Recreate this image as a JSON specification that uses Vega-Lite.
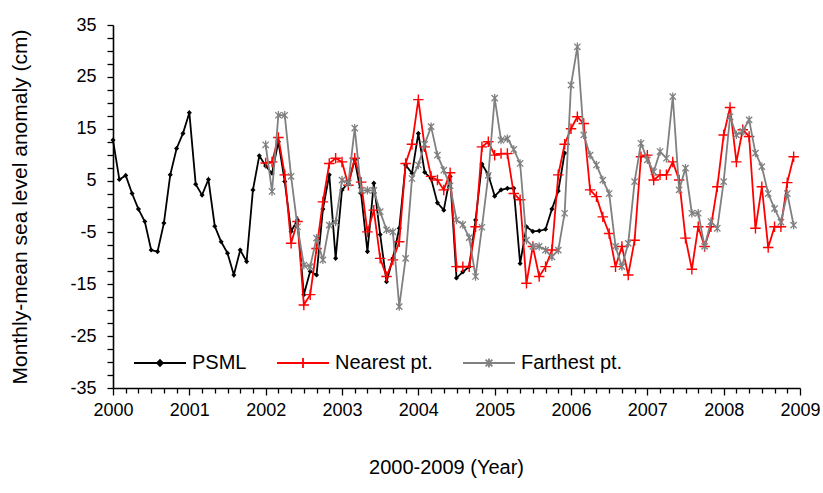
{
  "$schema": "https://vega.github.io/schema/vega-lite/v6.json",
  "width": 687,
  "height": 363,
  "autosize": {"type": "none"},
  "padding": {"left": 113, "top": 25, "right": 23, "bottom": 105},
  "config": {
    "view": {"stroke": null},
    "font": "Liberation Sans",
    "axis": {
      "domainColor": "#000000",
      "domainWidth": 1.6,
      "tickColor": "#000000",
      "tickWidth": 1.3,
      "labelColor": "#000000",
      "labelFont": "Liberation Sans",
      "labelFontSize": 18,
      "titleFont": "Liberation Sans",
      "titleFontWeight": "normal",
      "titleColor": "#000000",
      "grid": false,
      "labelOverlap": false,
      "labelFlush": false
    },
    "legend": {
      "title": null,
      "orient": "none",
      "legendX": 20,
      "legendY": 311,
      "direction": "horizontal",
      "padding": 0,
      "symbolSize": 2704,
      "symbolStrokeWidth": 1.8,
      "labelFont": "Liberation Sans",
      "labelFontSize": 20,
      "labelColor": "#000000",
      "labelOffset": 5,
      "columnPadding": 26,
      "labelLimit": 400
    }
  },
  "datasets": {
    "psml": [
      {"t": 2000.0, "v": 12.8}, {"t": 2000.0833, "v": 5.2}, {"t": 2000.1667, "v": 6.0}, {"t": 2000.25, "v": 2.5},
      {"t": 2000.3333, "v": -0.5}, {"t": 2000.4167, "v": -2.9}, {"t": 2000.5, "v": -8.4}, {"t": 2000.5833, "v": -8.7},
      {"t": 2000.6667, "v": -3.2}, {"t": 2000.75, "v": 6.1}, {"t": 2000.8333, "v": 11.2}, {"t": 2000.9167, "v": 14.1},
      {"t": 2001.0, "v": 18.1}, {"t": 2001.0833, "v": 4.3}, {"t": 2001.1667, "v": 2.2}, {"t": 2001.25, "v": 5.2},
      {"t": 2001.3333, "v": -3.8}, {"t": 2001.4167, "v": -6.8}, {"t": 2001.5, "v": -9.0}, {"t": 2001.5833, "v": -13.2},
      {"t": 2001.6667, "v": -8.4}, {"t": 2001.75, "v": -10.6}, {"t": 2001.8333, "v": 3.2}, {"t": 2001.9167, "v": 9.8},
      {"t": 2002.0, "v": 7.8}, {"t": 2002.0833, "v": 6.4}, {"t": 2002.1667, "v": 12.5}, {"t": 2002.25, "v": 4.8},
      {"t": 2002.3333, "v": -4.8}, {"t": 2002.4167, "v": -2.6}, {"t": 2002.5, "v": -17.0}, {"t": 2002.5833, "v": -12.5},
      {"t": 2002.6667, "v": -13.2}, {"t": 2002.75, "v": -0.5}, {"t": 2002.8333, "v": 6.1}, {"t": 2002.9167, "v": -10.0},
      {"t": 2003.0, "v": 3.2}, {"t": 2003.0833, "v": 4.5}, {"t": 2003.1667, "v": 9.0}, {"t": 2003.25, "v": 2.5},
      {"t": 2003.3333, "v": -8.7}, {"t": 2003.4167, "v": 4.5}, {"t": 2003.5, "v": -5.4}, {"t": 2003.5833, "v": -14.5},
      {"t": 2003.6667, "v": -10.0}, {"t": 2003.75, "v": -4.2}, {"t": 2003.8333, "v": 8.0}, {"t": 2003.9167, "v": 6.4},
      {"t": 2004.0, "v": 14.1}, {"t": 2004.0833, "v": 6.6}, {"t": 2004.1667, "v": 5.4}, {"t": 2004.25, "v": 0.7},
      {"t": 2004.3333, "v": -0.7}, {"t": 2004.4167, "v": 5.8}, {"t": 2004.5, "v": -13.8}, {"t": 2004.5833, "v": -12.6},
      {"t": 2004.6667, "v": -11.6}, {"t": 2004.75, "v": -2.6}, {"t": 2004.8333, "v": 8.2}, {"t": 2004.9167, "v": 6.1},
      {"t": 2005.0, "v": 2.0}, {"t": 2005.0833, "v": 3.2}, {"t": 2005.1667, "v": 3.5}, {"t": 2005.25, "v": 3.5},
      {"t": 2005.3333, "v": -11.0}, {"t": 2005.4167, "v": -3.9}, {"t": 2005.5, "v": -4.8}, {"t": 2005.5833, "v": -4.7},
      {"t": 2005.6667, "v": -4.4}, {"t": 2005.75, "v": -0.5}, {"t": 2005.8333, "v": 3.0}, {"t": 2005.9167, "v": 10.3}
    ],
    "nearest": [
      {"t": 2002.0, "v": 8.4}, {"t": 2002.0833, "v": 8.6}, {"t": 2002.1667, "v": 13.3}, {"t": 2002.25, "v": 6.1},
      {"t": 2002.3333, "v": -7.1}, {"t": 2002.4167, "v": -2.9}, {"t": 2002.5, "v": -19.0}, {"t": 2002.5833, "v": -17.0},
      {"t": 2002.6667, "v": -8.1}, {"t": 2002.75, "v": 0.9}, {"t": 2002.8333, "v": 8.3}, {"t": 2002.9167, "v": 9.3},
      {"t": 2003.0, "v": 8.6}, {"t": 2003.0833, "v": 4.1}, {"t": 2003.1667, "v": 9.3}, {"t": 2003.25, "v": 4.7},
      {"t": 2003.3333, "v": -4.9}, {"t": 2003.4167, "v": -0.7}, {"t": 2003.5, "v": -10.0}, {"t": 2003.5833, "v": -13.5},
      {"t": 2003.6667, "v": -10.3}, {"t": 2003.75, "v": -6.8}, {"t": 2003.8333, "v": 8.3}, {"t": 2003.9167, "v": 12.0},
      {"t": 2004.0, "v": 20.6}, {"t": 2004.0833, "v": 11.5}, {"t": 2004.1667, "v": 5.8}, {"t": 2004.25, "v": 5.1},
      {"t": 2004.3333, "v": 3.2}, {"t": 2004.4167, "v": 6.5}, {"t": 2004.5, "v": -11.6}, {"t": 2004.5833, "v": -11.6},
      {"t": 2004.6667, "v": -11.6}, {"t": 2004.75, "v": -3.9}, {"t": 2004.8333, "v": 11.5}, {"t": 2004.9167, "v": 12.5},
      {"t": 2005.0, "v": 9.9}, {"t": 2005.0833, "v": 10.2}, {"t": 2005.1667, "v": 10.2}, {"t": 2005.25, "v": 2.5},
      {"t": 2005.3333, "v": 1.3}, {"t": 2005.4167, "v": -14.8}, {"t": 2005.5, "v": -7.7}, {"t": 2005.5833, "v": -13.5},
      {"t": 2005.6667, "v": -11.6}, {"t": 2005.75, "v": -8.4}, {"t": 2005.8333, "v": 6.1}, {"t": 2005.9167, "v": 12.0},
      {"t": 2006.0, "v": 15.0}, {"t": 2006.0833, "v": 17.3}, {"t": 2006.1667, "v": 16.0}, {"t": 2006.25, "v": 3.2},
      {"t": 2006.3333, "v": 1.9}, {"t": 2006.4167, "v": -2.0}, {"t": 2006.5, "v": -5.2}, {"t": 2006.5833, "v": -11.6},
      {"t": 2006.6667, "v": -7.7}, {"t": 2006.75, "v": -13.2}, {"t": 2006.8333, "v": -6.5}, {"t": 2006.9167, "v": 9.6},
      {"t": 2007.0, "v": 9.9}, {"t": 2007.0833, "v": 5.1}, {"t": 2007.1667, "v": 6.1}, {"t": 2007.25, "v": 6.1},
      {"t": 2007.3333, "v": 8.6}, {"t": 2007.4167, "v": 5.1}, {"t": 2007.5, "v": -6.1}, {"t": 2007.5833, "v": -12.1},
      {"t": 2007.6667, "v": -3.9}, {"t": 2007.75, "v": -7.7}, {"t": 2007.8333, "v": -3.9}, {"t": 2007.9167, "v": 3.8},
      {"t": 2008.0, "v": 13.8}, {"t": 2008.0833, "v": 19.1}, {"t": 2008.1667, "v": 8.6}, {"t": 2008.25, "v": 14.8},
      {"t": 2008.3333, "v": 13.5}, {"t": 2008.4167, "v": -4.2}, {"t": 2008.5, "v": 3.8}, {"t": 2008.5833, "v": -7.9},
      {"t": 2008.6667, "v": -3.9}, {"t": 2008.75, "v": -3.9}, {"t": 2008.8333, "v": 4.6}, {"t": 2008.9167, "v": 9.6}
    ],
    "farthest": [
      {"t": 2002.0, "v": 11.9}, {"t": 2002.0833, "v": 2.9}, {"t": 2002.1667, "v": 17.6}, {"t": 2002.25, "v": 17.6},
      {"t": 2002.3333, "v": 5.8}, {"t": 2002.4167, "v": -3.9}, {"t": 2002.5, "v": -11.3}, {"t": 2002.5833, "v": -11.6},
      {"t": 2002.6667, "v": -6.1}, {"t": 2002.75, "v": -10.3}, {"t": 2002.8333, "v": -3.6}, {"t": 2002.9167, "v": -3.0},
      {"t": 2003.0, "v": 5.1}, {"t": 2003.0833, "v": 4.5}, {"t": 2003.1667, "v": 15.1}, {"t": 2003.25, "v": 3.1},
      {"t": 2003.3333, "v": 3.1}, {"t": 2003.4167, "v": 3.1}, {"t": 2003.5, "v": -1.0}, {"t": 2003.5833, "v": -4.5},
      {"t": 2003.6667, "v": -4.9}, {"t": 2003.75, "v": -19.3}, {"t": 2003.8333, "v": -10.0}, {"t": 2003.9167, "v": 5.4},
      {"t": 2004.0, "v": 8.0}, {"t": 2004.0833, "v": 12.0}, {"t": 2004.1667, "v": 15.4}, {"t": 2004.25, "v": 9.9},
      {"t": 2004.3333, "v": 7.0}, {"t": 2004.4167, "v": 4.0}, {"t": 2004.5, "v": -2.6}, {"t": 2004.5833, "v": -3.5},
      {"t": 2004.6667, "v": -6.0}, {"t": 2004.75, "v": -13.5}, {"t": 2004.8333, "v": -4.0}, {"t": 2004.9167, "v": 6.0},
      {"t": 2005.0, "v": 20.9}, {"t": 2005.0833, "v": 12.8}, {"t": 2005.1667, "v": 13.1}, {"t": 2005.25, "v": 11.0},
      {"t": 2005.3333, "v": 8.3}, {"t": 2005.4167, "v": -6.5}, {"t": 2005.5, "v": -7.7}, {"t": 2005.5833, "v": -7.7},
      {"t": 2005.6667, "v": -8.4}, {"t": 2005.75, "v": -9.7}, {"t": 2005.8333, "v": -8.4}, {"t": 2005.9167, "v": -1.3},
      {"t": 2006.0, "v": 23.4}, {"t": 2006.0833, "v": 30.8}, {"t": 2006.1667, "v": 13.8}, {"t": 2006.25, "v": 9.9},
      {"t": 2006.3333, "v": 8.0}, {"t": 2006.4167, "v": 5.1}, {"t": 2006.5, "v": 2.5}, {"t": 2006.5833, "v": -7.7},
      {"t": 2006.6667, "v": -11.6}, {"t": 2006.75, "v": -7.1}, {"t": 2006.8333, "v": 4.8}, {"t": 2006.9167, "v": 12.2},
      {"t": 2007.0, "v": 9.0}, {"t": 2007.0833, "v": 6.7}, {"t": 2007.1667, "v": 10.6}, {"t": 2007.25, "v": 9.3},
      {"t": 2007.3333, "v": 21.2}, {"t": 2007.4167, "v": 3.2}, {"t": 2007.5, "v": 7.4}, {"t": 2007.5833, "v": -1.3},
      {"t": 2007.6667, "v": -1.3}, {"t": 2007.75, "v": -7.7}, {"t": 2007.8333, "v": -2.9}, {"t": 2007.9167, "v": -4.2},
      {"t": 2008.0, "v": 4.8}, {"t": 2008.0833, "v": 17.3}, {"t": 2008.1667, "v": 13.8}, {"t": 2008.25, "v": 14.5},
      {"t": 2008.3333, "v": 16.7}, {"t": 2008.4167, "v": 10.3}, {"t": 2008.5, "v": 7.7}, {"t": 2008.5833, "v": 2.5},
      {"t": 2008.6667, "v": -0.4}, {"t": 2008.75, "v": -3.0}, {"t": 2008.8333, "v": 2.5}, {"t": 2008.9167, "v": -3.6}
    ]
  },
  "encoding": {
    "x": {
      "field": "t",
      "type": "quantitative",
      "scale": {"domain": [2000, 2009], "nice": false, "zero": false},
      "axis": {
        "title": "2000-2009 (Year)",
        "titleFontSize": 20,
        "titlePadding": 38,
        "titleX": 333,
        "values": [2000, 2000.1667, 2000.3333, 2000.5, 2000.6667, 2000.8333,
                   2001, 2001.1667, 2001.3333, 2001.5, 2001.6667, 2001.8333,
                   2002, 2002.1667, 2002.3333, 2002.5, 2002.6667, 2002.8333,
                   2003, 2003.1667, 2003.3333, 2003.5, 2003.6667, 2003.8333,
                   2004, 2004.1667, 2004.3333, 2004.5, 2004.6667, 2004.8333,
                   2005, 2005.1667, 2005.3333, 2005.5, 2005.6667, 2005.8333,
                   2006, 2006.1667, 2006.3333, 2006.5, 2006.6667, 2006.8333,
                   2007, 2007.1667, 2007.3333, 2007.5, 2007.6667, 2007.8333,
                   2008, 2008.1667, 2008.3333, 2008.5, 2008.6667, 2008.8333, 2009],
        "labelExpr": "abs(datum.value - round(datum.value)) < 0.01 ? '' + round(datum.value) : ''",
        "tickSize": {"condition": {"test": "abs(datum.value - round(datum.value)) < 0.01", "value": 7}, "value": 5},
        "labelPadding": 6
      }
    },
    "y": {
      "field": "v",
      "type": "quantitative",
      "scale": {"domain": [-35, 35], "nice": false, "zero": false},
      "axis": {
        "title": "Monthly-mean sea level anomaly (cm)",
        "titleFontSize": 21,
        "titlePadding": 39,
        "values": [-35, -32.5, -30, -27.5, -25, -22.5, -20, -17.5, -15, -12.5, -10, -7.5, -5, -2.5, 0,
                   2.5, 5, 7.5, 10, 12.5, 15, 17.5, 20, 22.5, 25, 27.5, 30, 32.5, 35],
        "labelExpr": "(datum.value + 35) % 10 == 0 ? '' + datum.value : ''",
        "tickSize": 6,
        "labelPadding": 11
      }
    }
  },
  "layer": [
    {
      "data": {"name": "psml"},
      "layer": [
        {
          "mark": {"type": "line", "strokeWidth": 1.8},
          "encoding": {
            "color": {
              "datum": "PSML",
              "scale": {"domain": ["PSML", "Nearest pt.", "Farthest pt."], "range": ["#000000", "#ff0000", "#808080"]},
              "legend": {
                "encode": {"symbols": {"update": {
                  "shape": {"signal": "datum.value === 'PSML' ? 'M-1,0H1M-0.11,0L0,-0.11L0.11,0L0,0.11Z' : datum.value === 'Nearest pt.' ? 'M-1,0H1M0,-0.19V0.19' : 'M-1,0H1M-0.13,-0.13L0.13,0.13M-0.13,0.13L0.13,-0.13M0,-0.17V0.17'"},
                  "fill": {"signal": "datum.value === 'PSML' ? '#000000' : 'transparent'"}
                }}}
              }
            }
          }
        },
        {"mark": {"type": "point", "shape": "M-1,0L0,-1L1,0L0,1Z", "filled": true, "size": 26, "color": "#000000", "opacity": 1}}
      ]
    },
    {
      "data": {"name": "nearest"},
      "layer": [
        {
          "mark": {"type": "line", "strokeWidth": 1.8},
          "encoding": {
            "color": {
              "datum": "Nearest pt.",
              "scale": {"domain": ["PSML", "Nearest pt.", "Farthest pt."], "range": ["#000000", "#ff0000", "#808080"]},
              "legend": {
                "encode": {"symbols": {"update": {
                  "shape": {"signal": "datum.value === 'PSML' ? 'M-1,0H1M-0.11,0L0,-0.11L0.11,0L0,0.11Z' : datum.value === 'Nearest pt.' ? 'M-1,0H1M0,-0.19V0.19' : 'M-1,0H1M-0.13,-0.13L0.13,0.13M-0.13,0.13L0.13,-0.13M0,-0.17V0.17'"},
                  "fill": {"signal": "datum.value === 'PSML' ? '#000000' : 'transparent'"}
                }}}
              }
            }
          }
        },
        {"mark": {"type": "point", "shape": "M-1,0H1M0,-1V1", "filled": false, "size": 110, "strokeWidth": 1.4, "color": "#ff0000", "opacity": 1}}
      ]
    },
    {
      "data": {"name": "farthest"},
      "layer": [
        {
          "mark": {"type": "line", "strokeWidth": 1.8},
          "encoding": {
            "color": {
              "datum": "Farthest pt.",
              "scale": {"domain": ["PSML", "Nearest pt.", "Farthest pt."], "range": ["#000000", "#ff0000", "#808080"]},
              "legend": {
                "encode": {"symbols": {"update": {
                  "shape": {"signal": "datum.value === 'PSML' ? 'M-1,0H1M-0.11,0L0,-0.11L0.11,0L0,0.11Z' : datum.value === 'Nearest pt.' ? 'M-1,0H1M0,-0.19V0.19' : 'M-1,0H1M-0.13,-0.13L0.13,0.13M-0.13,0.13L0.13,-0.13M0,-0.17V0.17'"},
                  "fill": {"signal": "datum.value === 'PSML' ? '#000000' : 'transparent'"}
                }}}
              }
            }
          }
        },
        {"mark": {"type": "point", "shape": "M-0.75,-0.75L0.75,0.75M-0.75,0.75L0.75,-0.75M0,-1V1", "filled": false, "size": 70, "strokeWidth": 1.3, "color": "#808080", "opacity": 1}}
      ]
    }
  ]
}
